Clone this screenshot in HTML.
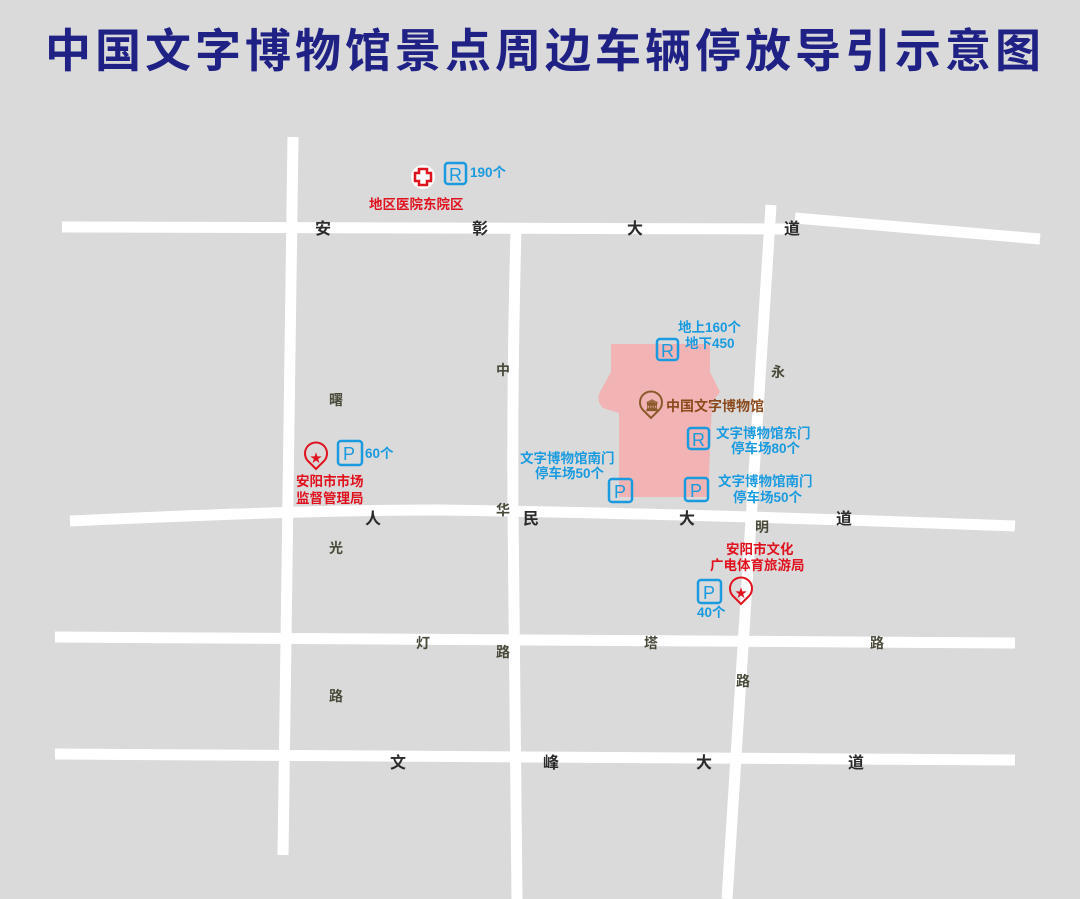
<!DOCTYPE html>
<html><head><meta charset="utf-8"><style>
html,body{margin:0;padding:0;background:#dadada;}
svg{display:block;font-family:"Liberation Sans","Noto Sans CJK SC",sans-serif;font-weight:bold;}
</style></head><body>
<svg width="1080" height="899" viewBox="0 0 1080 899" xmlns="http://www.w3.org/2000/svg">
<rect width="1080" height="899" fill="#dadada"/>
<text x="545" y="67" text-anchor="middle" font-size="46" fill="#1f2185" letter-spacing="4" textLength="1000" lengthAdjust="spacing">中国文字博物馆景点周边车辆停放导引示意图</text>
<g stroke="#fff" stroke-width="11" fill="none" stroke-linecap="butt">
<path d="M62 227 L790 229"/>
<path d="M795 218 L1040 239"/>
<path d="M70 521 Q300 510 440 510 Q700 514 1015 526"/>
<path d="M55 637 L1015 643"/>
<path d="M55 754 L1015 760"/>
<path d="M293 137 L283 855"/>
<path d="M516 230 Q512 380 513 510 Q515 700 517 899"/>
<path d="M771 205 L727 899"/>
</g>
<path d="M611 344 L710 344 L710 372 L720 392 L712 402 L708 497 L619 497 L619 413 L603 408 Q595 400 601 390 L611 372 Z" fill="#f1b3b3"/>
<g font-size="16" fill="#2b2b2b">
<text x="315" y="234">安</text><text x="472" y="234">彰</text><text x="627" y="234">大</text><text x="784" y="234">道</text>
<text x="365" y="524">人</text><text x="523" y="524">民</text><text x="679" y="524">大</text><text x="836" y="524">道</text>
<text x="390" y="768">文</text><text x="543" y="768">峰</text><text x="696" y="768">大</text><text x="848" y="768">道</text>
</g>
<g font-size="14" fill="#4a4a3a">
<text x="329" y="405">曙</text><text x="329" y="553">光</text><text x="329" y="701">路</text>
<text x="496" y="375">中</text><text x="496" y="515">华</text><text x="496" y="657">路</text>
<text x="771" y="377">永</text><text x="755" y="532">明</text><text x="644" y="648">塔</text><text x="736" y="686">路</text>
<text x="416" y="648">灯</text><text x="870" y="648">路</text>
</g>
<circle cx="423" cy="177" r="12" fill="#fff"/>
<path d="M419 169h8v4h4v8h-4v4h-8v-4h-4v-8h4z" fill="none" stroke="#e0121e" stroke-width="2.5"/>
<g fill="none" stroke="#1a9be0" stroke-width="2.5">
<rect x="445" y="163" width="21" height="21" rx="3"/>
<rect x="657" y="339" width="21" height="21" rx="3"/>
<rect x="688" y="428" width="21" height="21" rx="3"/>
<rect x="338" y="441" width="24" height="24" rx="3"/>
<rect x="609" y="479" width="23" height="23" rx="3"/>
<rect x="685" y="478" width="23" height="23" rx="3"/>
<rect x="698" y="580" width="23" height="23" rx="3"/>
</g>
<g fill="#1a9be0" font-size="18" font-weight="normal">
<text x="449" y="181">R</text><text x="661" y="357">R</text><text x="692" y="446">R</text>
<text x="343" y="460">P</text><text x="614" y="498">P</text><text x="690" y="497">P</text><text x="703" y="599">P</text>
</g>
<g fill="#1a9be0" font-size="13.5">
<text x="470" y="177">190个</text>
<text x="678" y="332">地上160个</text><text x="685" y="348">地下450</text>
<text x="716" y="438">文字博物馆东门</text><text x="731" y="453">停车场80个</text>
<text x="520" y="463">文字博物馆南门</text><text x="535" y="478">停车场50个</text>
<text x="718" y="486">文字博物馆南门</text><text x="733" y="502">停车场50个</text>
<text x="365" y="458">60个</text>
<text x="697" y="617">40个</text>
</g>
<g fill="#e0121e" font-size="13.5">
<text x="369" y="209">地区医院东院区</text>
<text x="296" y="486">安阳市市场</text><text x="296" y="503">监督管理局</text>
<text x="726" y="554">安阳市文化</text><text x="710" y="570">广电体育旅游局</text>
</g>
<g fill="none" stroke="#e0121e" stroke-width="2">
<path d="M316 469 L308 461 A11 11 0 1 1 324 461 Z"/>
<path d="M741 604 L733 596 A11 11 0 1 1 749 596 Z"/>
</g>
<g fill="#e0121e" font-size="12"><text x="310" y="462">★</text><text x="735" y="597">★</text></g>
<path d="M651 418 L643 410 A11 11 0 1 1 659 410 Z" fill="#f1b3b3" stroke="#8b5a2b" stroke-width="2"/>
<text x="645" y="409" font-size="11" fill="#8b5a2b">🏛</text>
<text x="666" y="411" font-size="14" fill="#8b4a1c">中国文字博物馆</text>
</svg>
</body></html>
